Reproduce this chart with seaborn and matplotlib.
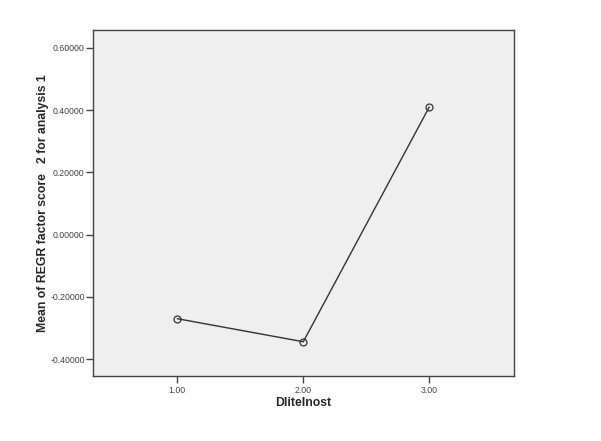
import pandas as pd
import matplotlib
matplotlib.use('Agg')
import matplotlib.pyplot as plt
import seaborn as sns

# values
groups = [1.0, 2.0, 3.0]
means = [-0.270, -0.344, 0.410]
x_ticks = [1.0, 2.0, 3.0]
y_ticks = [-0.4, -0.2, 0.0, 0.2, 0.4, 0.6]

df = pd.DataFrame({'Dlitelnost': groups, 'mean': means})

sns.set_style('white')
plt.rcParams['font.family'] = ['Liberation Sans', 'DejaVu Sans']

fig = plt.figure(figsize=(6.01, 4.41), dpi=100)
ax = fig.add_axes([0.1547, 0.1474, 0.7001, 0.7846])
ax.set_facecolor('#efefef')

sns.lineplot(data=df, x='Dlitelnost', y='mean', ax=ax, color='#333333',
             linewidth=1.0, marker='o', markersize=5, markerfacecolor='none',
             markeredgecolor='#333333', markeredgewidth=0.9)

ax.set_xlim(0.331, 3.67)
ax.set_ylim(-0.454, 0.657)
ax.set_xticks(x_ticks)
ax.set_xticklabels([f'{v:.2f}' for v in x_ticks])
ax.set_yticks(y_ticks)
ax.set_yticklabels([f'{v:.5f}' for v in y_ticks])

for s in ax.spines.values():
    s.set_color('#444444')
    s.set_linewidth(1.0)

ax.tick_params(axis='both', direction='out', length=5, width=1, color='#444444',
               labelsize=6.3, labelcolor='#444444', left=True, bottom=True)
ax.tick_params(axis='y', pad=1)
ax.tick_params(axis='x', pad=2)

ax.set_xlabel('Dlitelnost', fontsize=8.8, fontweight='bold', labelpad=2)
ax.set_ylabel('Mean of REGR factor score   2 for analysis 1', fontsize=8.8,
              fontweight='bold', labelpad=1)

fig.savefig('out.png', dpi=100)
